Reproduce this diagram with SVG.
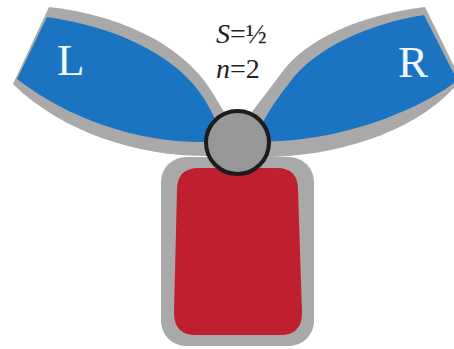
<svg xmlns="http://www.w3.org/2000/svg" width="454" height="349" viewBox="0 0 454 349">
<style>
.rim{fill:#a9a9a9}
.blue{fill:#1b74c2}
.lbl{font-family:"Liberation Serif",serif;fill:#eef6ff;font-size:45px}
.eq{font-family:"Liberation Serif",serif;fill:#222;font-size:28px}
</style>
<rect width="454" height="349" fill="#fff"/>
<g id="body">
<rect class="rim" x="161" y="157" width="153" height="189" rx="25"/>
<path fill="#c01f30" d="M199,168 L277,168 Q298,168 298,190 L302,313 Q302,335 280,335 L196,335 Q174,335 174,313 L177,190 Q177,168 199,168 Z"/>
</g>
<g id="L">
<path class="rim" d="M49,7 C112,14 180,40 212,92 L232,125 L215,156 C145,158 65,135 13,84 Z"/>
<path class="blue" d="M47,17 C110,26 175,52 205,100 C213,114 219,126 222,140 L205,142 C140,143 70,120 17,79 Z"/>
<text class="lbl" x="57" y="75">L</text>
</g>
<g id="R">
<path class="rim" d="M425,7 L454,66 L454,88 C410,135 330,158 258,157 L242,125 L280,75 C305,38 365,14 425,7 Z"/>
<path class="blue" d="M424,15 L454,74 L454,83 C410,115 340,138 280,141 L254,142 C262,120 276,100 290,82 C315,48 368,24 424,15 Z"/>
<text class="lbl" x="398" y="77">R</text>
</g>
<g id="center">
<circle cx="237.5" cy="142.5" r="31.5" fill="#979797" stroke="#1c1c1c" stroke-width="4"/>
</g>
<g id="labels">
<text class="eq" x="216" y="43"><tspan font-style="italic">S</tspan>=½</text>
<text class="eq" x="216" y="78"><tspan font-style="italic">n</tspan>=2</text>
</g>
<g id="connectors"/>
</svg>
